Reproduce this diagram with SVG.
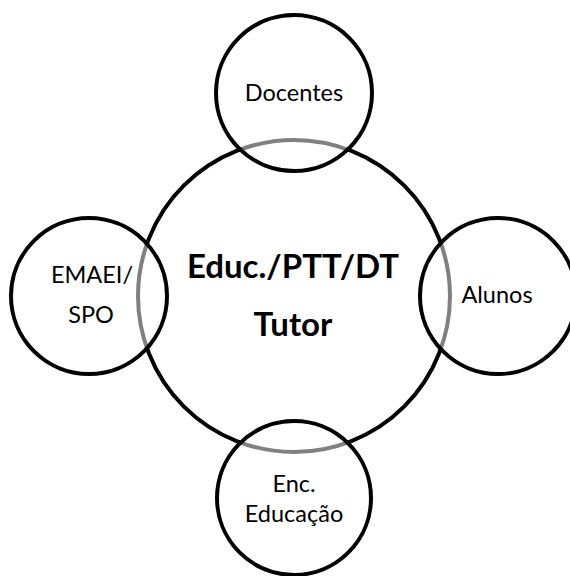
<svg xmlns="http://www.w3.org/2000/svg" width="570" height="576" viewBox="0 0 570 576">
<style>
.c{stroke:#000;stroke-width:4}
.s{fill:#fff;fill-opacity:0.5}
.t{font-family:Lato,"Open Sans",sans-serif;font-size:23.5px;fill:#000;text-anchor:middle}
.b{font-family:Lato,"Open Sans",sans-serif;font-size:33px;font-weight:bold;fill:#000;text-anchor:middle}
</style>
<rect width="570" height="576" fill="#fff"/>
<g id="center">
<circle class="c" cx="294" cy="296" r="156" fill="#fff"/>
<text class="b" x="293" y="278">Educ./PTT/DT</text>
<text class="b" x="293" y="336">Tutor</text>
</g>
<g id="docentes">
<circle class="c s" cx="294" cy="93" r="78"/>
<text class="t" x="294" y="101">Docentes</text>
</g>
<g id="emaei">
<circle class="c s" cx="89" cy="296" r="78"/>
<text class="t" x="92" y="283">EMAEI/</text>
<text class="t" x="91" y="323">SPO</text>
</g>
<g id="alunos">
<circle class="c s" cx="498" cy="296" r="78"/>
<text class="t" x="497" y="303">Alunos</text>
</g>
<g id="enc">
<circle class="c s" cx="294" cy="498" r="77"/>
<text class="t" x="294" y="492">Enc.</text>
<text class="t" x="294" y="522">Educação</text>
</g>
<g id="connectors"/>
</svg>
